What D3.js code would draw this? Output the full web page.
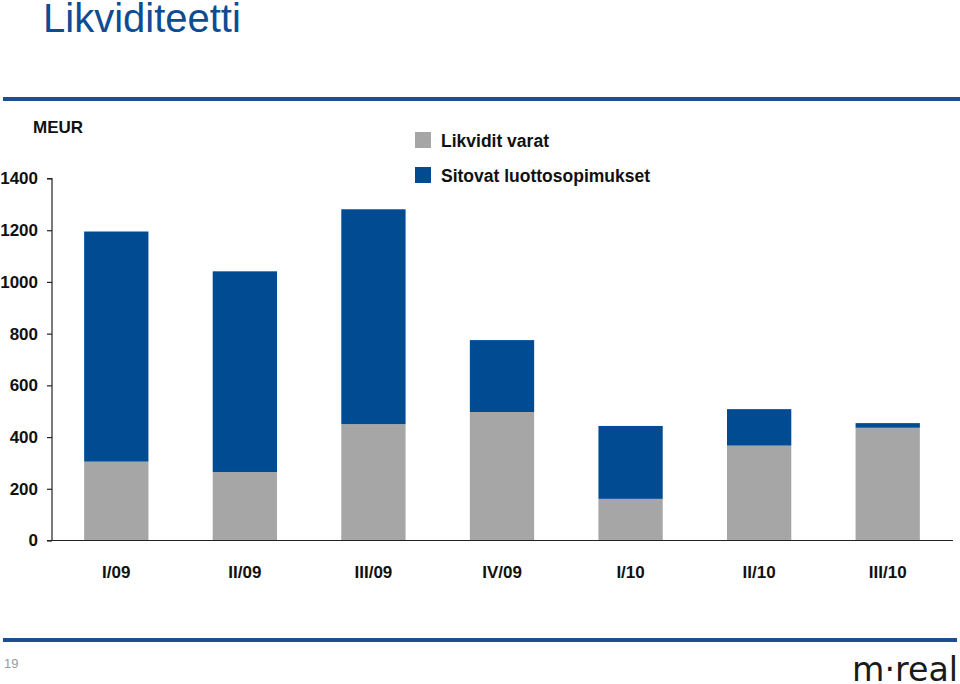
<!DOCTYPE html>
<html>
<head>
<meta charset="utf-8">
<script src="https://cdn.jsdelivr.net/npm/d3@7"></script>
<style>
  html, body { margin: 0; padding: 0; background: #fff; }
  svg { display: block; font-family: "Liberation Sans", Arial, sans-serif; }
</style>
</head>
<body>
<svg id="chart" width="960" height="684"></svg>
<script>
const categories = ["I/09", "II/09", "III/09", "IV/09", "I/10", "II/10", "III/10"];
const likviditVarat = [305, 265, 450, 497, 161, 367, 436];
const sitovatLuotto = [890, 776, 831, 278, 282, 141, 18];
const seriesNames = ["Likvidit varat", "Sitovat luottosopimukset"];
const yTicks = [0, 200, 400, 600, 800, 1000, 1200, 1400];

const colors = ["#A6A6A6", "#004B91"];
const svg = d3.select("#chart");

// title
svg.append("text").attr("x", 43).attr("y", 32)
  .attr("font-size", 40).attr("fill", "#0D4C94").text("Likviditeetti");
// header & footer lines
svg.append("rect").attr("x", 3).attr("y", 97).attr("width", 957).attr("height", 4).attr("fill", "#1A4F93");
svg.append("rect").attr("x", 3).attr("y", 638).attr("width", 954).attr("height", 4).attr("fill", "#1A4F93");

const x = d3.scaleBand().domain(categories).range([52, 952]).paddingInner(0.5).paddingOuter(0.25);
const y = d3.scaleLinear().domain([0, 1400]).range([540.5, 178.5]);

const rows = categories.map((c, i) => ({cat: c, a: likviditVarat[i], b: sitovatLuotto[i]}));
const stack = d3.stack().keys(["a", "b"])(rows);

const g = svg.append("g");
g.selectAll("g.series").data(stack).join("g")
  .attr("fill", (d, i) => colors[i])
  .selectAll("rect").data(d => d).join("rect")
  .attr("x", d => x(d.data.cat))
  .attr("width", x.bandwidth())
  .attr("y", d => y(d[1]))
  .attr("height", d => y(d[0]) - y(d[1]));

// y axis
const yAxis = svg.append("g").attr("transform", "translate(52,0)")
  .call(d3.axisLeft(y).tickValues(yTicks).tickSize(5).tickPadding(9).tickFormat(d3.format("d")));
yAxis.select(".domain").attr("stroke", "#222").attr("stroke-width", 1.2).attr("d", "M-5,178.5H0V540.5");
yAxis.selectAll(".tick line").attr("stroke", "#222").attr("stroke-width", 1.2);
yAxis.selectAll(".tick text").attr("font-size", 17).attr("font-weight", "bold")
  .attr("fill", "#111").attr("font-family", "Liberation Sans, Arial, sans-serif");

// x axis
const xAxis = svg.append("g").attr("transform", "translate(0,540.5)")
  .call(d3.axisBottom(x).tickSize(0).tickPadding(25));
xAxis.select(".domain").attr("stroke", "#222").attr("stroke-width", 1.2).attr("d", "M47,0H953");
xAxis.selectAll(".tick text").attr("font-size", 17).attr("font-weight", "bold")
  .attr("fill", "#111").attr("font-family", "Liberation Sans, Arial, sans-serif");

// unit label
svg.append("text").attr("x", 33).attr("y", 133).attr("font-size", 17)
  .attr("font-weight", "bold").attr("fill", "#111").text("MEUR");

// legend
const leg = svg.append("g");
seriesNames.forEach((n, i) => {
  const yy = 132 + i * 35;
  leg.append("rect").attr("x", 415).attr("y", yy).attr("width", 16).attr("height", 16).attr("fill", colors[i]);
  leg.append("text").attr("x", 441).attr("y", yy + 15).attr("font-size", 17.5)
    .attr("font-weight", "bold").attr("fill", "#111").text(n);
});

// page number
svg.append("text").attr("x", 4).attr("y", 668).attr("font-size", 13).attr("fill", "#999").text("19");
// logo
svg.append("text").attr("x", 852).attr("y", 681).attr("font-size", 33)
  .attr("font-family", "DejaVu Sans, sans-serif").attr("fill", "#1a1a1a")
  .attr("textLength", 106).attr("lengthAdjust", "spacingAndGlyphs").text("m·real");
</script>
</body>
</html>
